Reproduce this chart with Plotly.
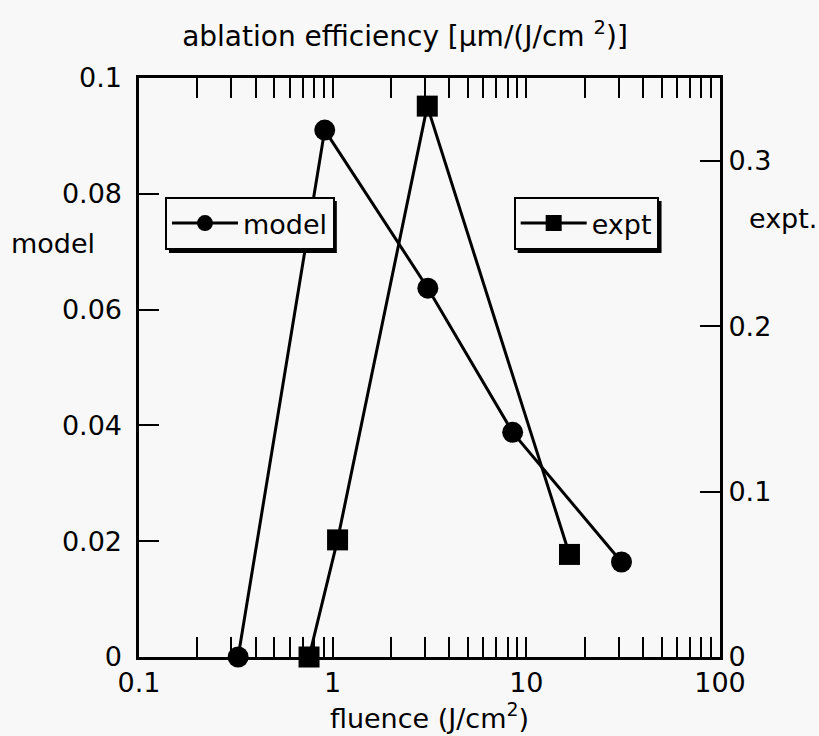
import plotly.graph_objects as go

# Data
model_x = [0.325, 0.91, 3.1, 8.5, 31]
model_y = [0.0, 0.091, 0.0637, 0.0388, 0.0164]
expt_x = [0.755, 1.06, 3.08, 16.7]
expt_y = [0.0, 0.0708, 0.333, 0.062]

left_ticks = [0, 0.02, 0.04, 0.06, 0.08, 0.1]
left_labels = ["0", "0.02", "0.04", "0.06", "0.08", "0.1"]
right_ticks = [0, 0.1, 0.2, 0.3]
right_labels = ["0", "0.1", "0.2", "0.3"]
x_ticks = [0.1, 1, 10, 100]
x_labels = ["0.1", "1", "10", "100"]

FONT = "DejaVu Sans, Liberation Sans, Arial, sans-serif"
BG = "#f8f8f8"
FS = 27

# plot area in pixels
L, R, T, B = 139, 720.5, 78, 657
PW, PH = R - L, B - T


def px(xp):
    return (xp - L) / PW


def py(yp):
    return (B - yp) / PH


fig = go.Figure()
fig.add_trace(go.Scatter(
    x=model_x, y=model_y, name="model", mode="lines+markers",
    line=dict(color="black", width=3),
    marker=dict(symbol="circle", size=21, color="black"),
    cliponaxis=False, legend="legend", yaxis="y",
))
fig.add_trace(go.Scatter(
    x=expt_x, y=expt_y, name="expt", mode="lines+markers",
    line=dict(color="black", width=3),
    marker=dict(symbol="square", size=21, color="black"),
    cliponaxis=False, legend="legend2", yaxis="y2",
))

axis_common = dict(showline=True, linecolor="black", linewidth=3,
                   ticks="inside", tickcolor="black", tickwidth=2,
                   showgrid=False, zeroline=False, automargin=False,
                   tickfont=dict(family=FONT, size=FS, color="black"))

# legend boxes (pixel estimates: left, top, width, height)
leg1 = (165, 197, 168, 52)
leg2 = (514, 197, 144, 52)

fig.update_layout(
    width=819, height=736,
    margin=dict(l=L, r=819 - R, t=T, b=736 - B),
    paper_bgcolor=BG, plot_bgcolor=BG,
    font=dict(family=FONT, size=FS, color="black"),
    showlegend=True,
    title=dict(text="ablation efficiency [µm/(J/cm <sup>2</sup>)]",
               x=405/819, xanchor="center", xref="container",
               y=1 - 36/736, yanchor="middle", yref="container",
               font=dict(family=FONT, size=28, color="black")),
    xaxis=dict(type="log", range=[-1, 2], tickvals=x_ticks, ticktext=x_labels,
               ticklen=20, mirror="allticks",
               minor=dict(ticks="inside", ticklen=8, tickwidth=2, tickcolor="black",
                          dtick="D1", showgrid=False),
               title=dict(text="fluence (J/cm<sup>2</sup>)", standoff=10,
                          font=dict(family=FONT, size=FS, color="black")),
               **axis_common),
    yaxis=dict(range=[0, 0.1], tickvals=left_ticks,
               ticktext=[t + "\u00a0" for t in left_labels],
               ticklen=20, **axis_common),
    yaxis2=dict(range=[0, 0.35], tickvals=right_ticks, ticktext=right_labels,
                overlaying="y", side="right", ticklen=20, **axis_common),
    legend=dict(x=px(leg1[0]), y=py(leg1[1]), xanchor="left", yanchor="top",
                bgcolor=BG, bordercolor="black", borderwidth=2,
                itemwidth=66,
                font=dict(family=FONT, size=FS, color="black")),
    legend2=dict(x=px(leg2[0]), y=py(leg2[1]), xanchor="left", yanchor="top",
                 bgcolor=BG, bordercolor="black", borderwidth=2,
                 itemwidth=66,
                 font=dict(family=FONT, size=FS, color="black")),
)

# drop shadows behind the legend boxes
SH = 4
for (lx, ty, w, h) in (leg1, leg2):
    fig.add_shape(type="rect", xref="paper", yref="paper", layer="above",
                  x0=px(lx + SH), x1=px(lx + w + SH),
                  y0=py(ty + SH), y1=py(ty + h + SH),
                  fillcolor="black", line=dict(width=0))

fig.add_annotation(text="model", x=px(53), y=py(243), xref="paper", yref="paper",
                   xanchor="center", yanchor="middle", showarrow=False,
                   font=dict(family=FONT, size=FS, color="black"))
fig.add_annotation(text="expt.", x=px(784), y=py(218), xref="paper", yref="paper",
                   xanchor="center", yanchor="middle", showarrow=False,
                   font=dict(family=FONT, size=FS, color="black"))

fig.write_html("out.html")
